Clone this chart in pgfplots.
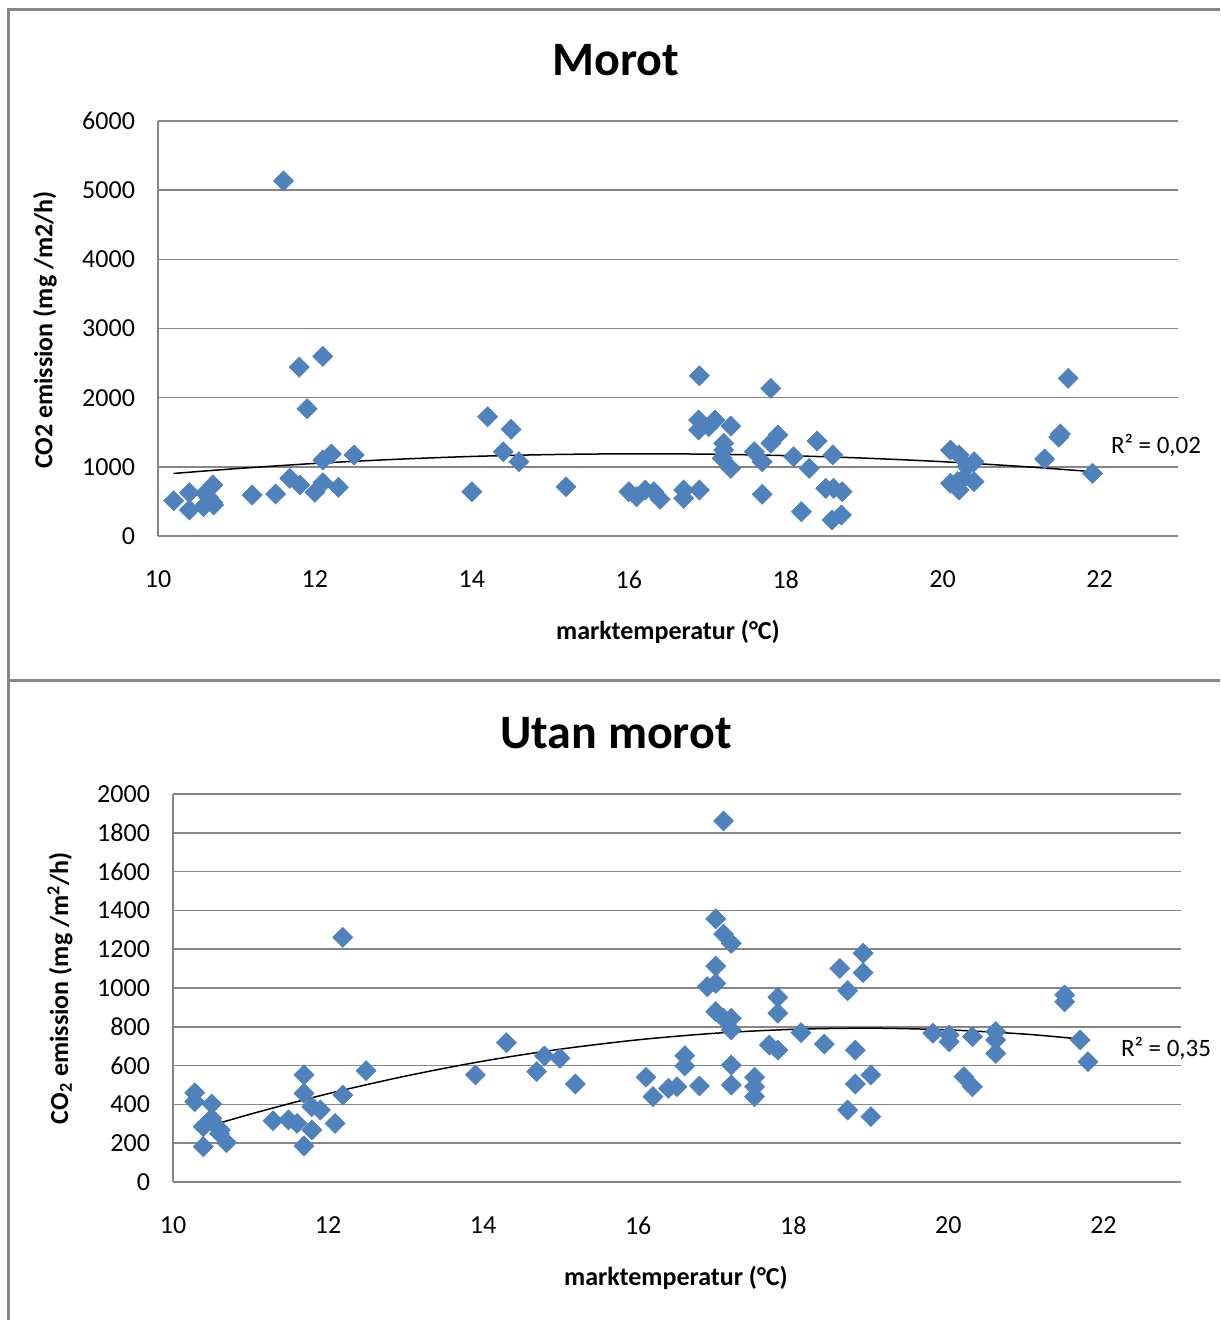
\documentclass[border=0pt]{standalone}
\usepackage{pgfplots}
\pgfplotsset{compat=1.18}
\usepackage{fontspec}
\setmainfont{Carlito}

\definecolor{ptblue}{HTML}{4F81BD}
\definecolor{gridgray}{HTML}{868686}

\pgfplotsset{excel/.style={
  scale only axis, clip=false,
  axis x line=bottom, axis y line=left,
  axis line style={-, draw=gridgray, line width=0.75pt},
  ymajorgrids, grid style={gridgray, line width=0.75pt},
  major tick length=0pt,
  tick label style={font=\fontsize{13}{15}\selectfont},
  /pgf/number format/assume math mode=true,
  /pgf/number format/set thousands separator={},
  xmin=10, xmax=23, xtick={10,12,...,22},
  xticklabel style={yshift=-14pt},
  yticklabel style={xshift=-8pt},
}}

\pgfplotstableread{
x y
10.20 510
10.40 626
10.40 376
10.60 617
10.70 737
10.58 424
10.71 448
10.65 550
10.70 480
11.20 592
11.50 607
11.60 5134
11.68 833
11.80 2442
11.81 737
11.90 1840
12.00 631
12.10 2597
12.10 770
12.10 1098
12.21 1185
12.30 704
12.50 1171
14.00 640
14.20 1724
14.40 1218
14.50 1542
14.60 1074
15.20 712
16.00 640
16.10 568
16.21 665
16.32 640
16.40 530
16.70 665
16.70 545
16.90 665
16.90 2317
16.89 1676
16.89 1532
17.02 1580
17.10 1676
17.30 1590
17.21 1340
17.21 1243
17.19 1123
17.30 978
17.60 1218
17.70 1074
17.81 1340
17.90 1460
17.81 2134
17.70 602
18.10 1146
18.30 978
18.40 1373
18.60 1171
18.20 351
18.51 689
18.61 689
18.72 640
18.59 231
18.71 303
20.10 1243
20.21 1171
20.40 1074
20.31 1002
20.10 762
20.21 665
20.40 785
20.27 834
20.19 785
21.30 1113
21.50 1474
21.48 1430
21.60 2279
21.91 906
}\morot

\pgfplotstableread{
x y
10.28 460
10.28 414
10.50 402
10.50 328
10.39 285
10.61 268
10.39 182
10.69 203
10.60 250
11.29 316
11.49 320
11.60 302
11.69 552
11.69 457
11.79 388
11.90 371
11.79 268
11.69 186
12.19 448
12.09 302
12.19 1261
12.49 574
13.90 552
14.30 718
14.69 569
14.79 650
14.99 638
15.19 505
16.10 540
16.19 440
16.39 483
16.50 491
16.60 651
16.60 598
16.79 495
17.10 1861
17.00 1356
17.10 1278
17.20 1230
17.00 1113
16.89 1007
17.00 1024
17.00 878
17.10 844
17.20 844
17.20 784
17.20 603
17.20 500
17.50 540
17.50 491
17.50 440
17.69 706
17.80 680
17.80 952
17.80 870
18.10 770
18.40 711
18.60 1101
18.70 986
18.90 1179
18.90 1079
18.80 680
18.80 505
19.00 552
18.70 371
19.00 337
19.80 767
20.01 758
20.01 723
20.31 749
20.61 775
20.61 732
20.61 663
20.20 543
20.31 491
21.50 964
21.50 929
21.70 732
21.80 620
}\utan

\begin{document}
\begin{tikzpicture}
\path[use as bounding box] (0pt,0pt) rectangle (610pt,660pt);
\draw[gridgray, line width=1.5pt] (4pt,0pt) -- (4pt,655pt) -- (610pt,655pt);
\draw[gridgray, line width=1.5pt] (4pt,319.5pt) -- (610pt,319.5pt);

\begin{axis}[excel, at={(79pt,392pt)}, anchor=south west,
  width=510pt, height=207.5pt, ymin=0, ymax=6000, ytick={0,1000,...,6000}]
\addplot[only marks, color=ptblue, mark=square*, mark size=3.5pt,
  mark options={rotate=45, fill=ptblue, draw=ptblue}] table[x=x,y=y] {\morot};
\addplot[black, line width=0.75pt, smooth, no marks] coordinates {
(10.2,904) (11,974) (12,1049) (13,1107) (14,1150) (15,1177) (16,1188)
(17,1183) (18,1162) (19,1126) (20,1074) (21,1006) (21.9,931)};
\end{axis}

\begin{axis}[excel, at={(86.5pt,69pt)}, anchor=south west,
  width=504pt, height=194pt, ymin=0, ymax=2000, ytick={0,200,...,2000}]
\addplot[only marks, color=ptblue, mark=square*, mark size=3.5pt,
  mark options={rotate=45, fill=ptblue, draw=ptblue}] table[x=x,y=y] {\utan};
\addplot[black, line width=0.75pt, smooth, no marks] coordinates {
(10.3,268) (11,350) (12,455) (13,546) (14,623) (15,685) (16,733)
(17,767) (18,787) (19,793) (20,784) (21,762) (21.8,733)};
\end{axis}

\node[font=\bfseries\fontsize{24}{28}\selectfont] at (308pt,630pt) {Morot};
\node[font=\bfseries\fontsize{24}{28}\selectfont] at (308pt,293.5pt) {Utan morot};
\node[font=\bfseries\fontsize{13}{15}\selectfont, rotate=90] at (22.5pt,495pt) {CO2 emission (mg /m2/h)};
\node[font=\bfseries\fontsize{13}{15}\selectfont, rotate=90] at (30pt,166pt) {CO\textsubscript{2} emission (mg /m\textsuperscript{2}/h)};
\node[font=\bfseries\fontsize{13}{15}\selectfont] at (334pt,344pt) {marktemperatur (°C)};
\node[font=\bfseries\fontsize{13}{15}\selectfont] at (338pt,21pt) {marktemperatur (°C)};
\node[anchor=west, font=\fontsize{12.5}{14}\selectfont] at (552pt,437.5pt) {R² = 0,02};
\node[anchor=west, font=\fontsize{12.5}{14}\selectfont] at (557pt,136pt) {R² = 0,35};
\end{tikzpicture}
\end{document}
